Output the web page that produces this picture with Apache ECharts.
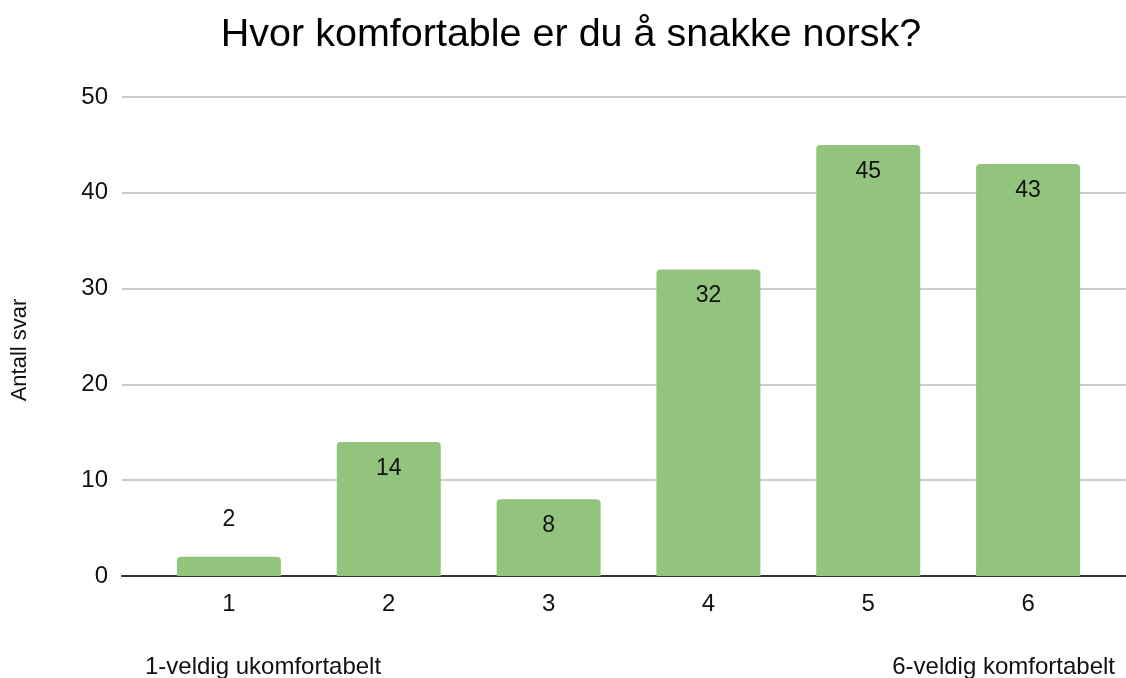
<!DOCTYPE html>
<html>
<head>
<meta charset="utf-8">
<style>
html,body{margin:0;padding:0;background:#fff;}
#chart{width:1126px;height:678px;}
</style>
<script src="https://cdn.jsdelivr.net/npm/echarts@6/dist/echarts.min.js"></script>
</head>
<body>
<div id="chart"></div>
<script>
const titleText = 'Hvor komfortable er du å snakke norsk?';
const yAxisTitle = 'Antall svar';
const categories = ['1', '2', '3', '4', '5', '6'];
const values = [2, 14, 8, 32, 45, 43];
const yTicks = { min: 0, max: 50, interval: 10 };
const leftNote = '1-veldig ukomfortabelt';
const rightNote = '6-veldig komfortabelt';

const FONT = '"Liberation Sans", Arial, sans-serif';
const BAR = '#93c47d';
const TXT = '#111111';

const seriesData = values.map(v => v < 5
  ? { value: v, label: { position: 'top', distance: 26 } }
  : { value: v });

const chart = echarts.init(document.getElementById('chart'), null, { renderer: 'canvas' });
chart.setOption({
  animation: false,
  backgroundColor: '#ffffff',
  grid: [
    { left: 149, right: 18, top: 97, bottom: 102 },
    { left: 122, right: 0, top: 97, bottom: 102 }
  ],
  xAxis: [
    {
      type: 'category', gridIndex: 0, data: categories, boundaryGap: true,
      axisLine: { show: false }, axisTick: { show: false },
      axisLabel: { margin: 16, fontSize: 24, fontFamily: FONT, color: TXT }
    },
    {
      type: 'category', gridIndex: 1, data: categories,
      axisLine: { show: true, onZero: false, lineStyle: { color: '#333333', width: 2 } },
      axisTick: { show: false }, axisLabel: { show: false }, splitLine: { show: false }
    }
  ],
  yAxis: [
    {
      type: 'value', gridIndex: 0, min: yTicks.min, max: yTicks.max, interval: yTicks.interval,
      axisLine: { show: false }, axisTick: { show: false }, axisLabel: { show: false },
      splitLine: { show: false }
    },
    {
      type: 'value', gridIndex: 1, min: yTicks.min, max: yTicks.max, interval: yTicks.interval,
      axisLine: { show: false }, axisTick: { show: false },
      axisLabel: { margin: 14, fontSize: 24, fontFamily: FONT, color: TXT, padding: [3, 0, 0, 0] },
      splitLine: { show: true, lineStyle: { color: '#cccccc', width: 2 } }
    }
  ],
  series: [
    {
      type: 'bar', xAxisIndex: 0, yAxisIndex: 0, data: seriesData,
      barWidth: 104, z: 3,
      itemStyle: { color: BAR, borderRadius: [4, 4, 0, 0] },
      label: {
        show: true, position: 'insideTop', distance: 15,
        fontSize: 23, fontFamily: FONT, color: TXT
      }
    }
  ],
  graphic: [
    { type: 'text', x: 571, y: 35, z: 10,
      style: { text: titleText, font: '39.5px ' + FONT, fill: '#000000', align: 'center', verticalAlign: 'middle' } },
    { type: 'text', x: 20, y: 350, rotation: Math.PI / 2, z: 10,
      style: { text: yAxisTitle, font: '22px ' + FONT, fill: TXT, align: 'center', verticalAlign: 'middle' } },
    { type: 'text', x: 145, y: 667, z: 10,
      style: { text: leftNote, font: '24px ' + FONT, fill: TXT, align: 'left', verticalAlign: 'middle' } },
    { type: 'text', x: 1115, y: 667, z: 10,
      style: { text: rightNote, font: '24px ' + FONT, fill: TXT, align: 'right', verticalAlign: 'middle' } }
  ]
});
</script>
</body>
</html>
